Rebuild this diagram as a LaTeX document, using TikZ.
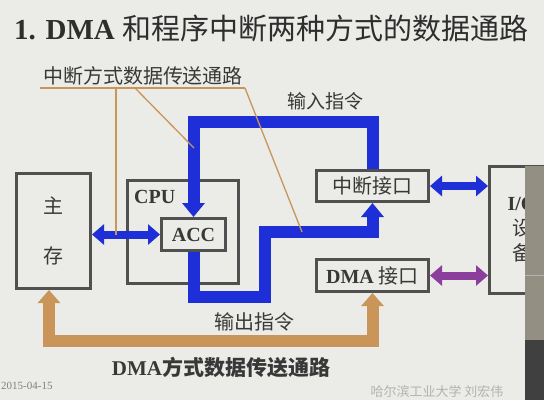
\documentclass[tikz,border=0pt]{standalone}
\usepackage{fontspec}
\setmainfont{Liberation Serif}
\newfontfamily\cjk{Noto Sans CJK SC}
\usetikzlibrary{arrows.meta,positioning,calc}
\definecolor{bluebus}{HTML}{1E2FD8}
\definecolor{tanbus}{HTML}{C99559}
\definecolor{viola}{HTML}{8C3E9C}
\definecolor{grigio}{HTML}{505050}
\definecolor{inchiostro}{HTML}{383838}
\definecolor{fondo}{HTML}{EBEBE7}
\tikzset{main base/.style={draw=grigio,line width=3pt,text=inchiostro,align=center, }, }
\tikzset{main node/.style={rectangle,main base,inner sep=0pt}, }
\tikzset{main verb/.style={text=inchiostro,inner sep=0pt}, }
\tikzset{linea/.style={-{Triangle[width=22pt,length=14pt]},line width=12pt,bluebus,line join=miter}}
\tikzset{linea2/.style={{Triangle[width=20pt,length=12pt]}-{Triangle[width=20pt,length=12pt]},line width=8pt}}
\tikzset{linea3/.style={{Triangle[width=22pt,length=13pt]}-{Triangle[width=22pt,length=13pt]},line width=12pt,tanbus,line join=miter}}
\tikzset{filo/.style={tanbus,line width=1.3pt}}

\begin{document}
\begin{tikzpicture}[x=1pt,y=-1pt]
\useasboundingbox (0,0) rectangle (544,400);
\fill[fondo] (0,0) rectangle (544,400);
%
\node[main verb,anchor=west,text=black!82,font=\fontsize{29pt}{31pt}\selectfont] (0) at (14,28) {\textbf{1. DMA} {\cjk 和程序中断两种方式的数据通路}};
%
\node[main node,minimum width=74pt,minimum height=115pt,font=\cjk\fontsize{20pt}{50pt}\selectfont] (1) at (53.5,231) {主\\存};
\node[main node,minimum width=111pt,minimum height=103pt] (2) at (183,232) {};
\node[main verb,anchor=west,font=\fontsize{20pt}{22pt}\selectfont\bfseries] (3) at (134,197) {CPU};
\node[main node,minimum width=64pt,minimum height=32pt,font=\fontsize{20pt}{22pt}\selectfont\bfseries] (4) at (193.5,234.5) {ACC};
\node[main node,minimum width=112pt,minimum height=31pt,font=\cjk\fontsize{20pt}{22pt}\selectfont] (5) at (372.5,186) {中断接口};
\node[main node,minimum width=112pt,minimum height=32pt,font=\fontsize{20pt}{22pt}\selectfont] (6) at (372.5,275.5) {\textbf{DMA} {\cjk 接口}};
\node[main node,minimum width=65pt,minimum height=127pt,font=\fontsize{20pt}{25pt}\selectfont] (7) at (522,230) {\textbf{I/O}\\{\cjk 设}\\{\cjk 备}};
%
\node[main verb,font=\cjk\fontsize{20pt}{22pt}\selectfont] (8) at (143,76) {中断方式数据传送通路};
\node[main verb,font=\cjk\fontsize{19pt}{21pt}\selectfont] (9) at (325,101) {输入指令};
\node[main verb,font=\cjk\fontsize{20pt}{22pt}\selectfont] (10) at (254,322) {输出指令};
\node[main verb,font=\fontsize{21pt}{23pt}\selectfont] (11) at (221,367) {\textbf{DMA}{\cjk\bfseries 方式数据传送通路}};
%
\coordinate (a) at (283,122);
\coordinate (b) at (265,297);
\coordinate (c) at (265,232);
\coordinate (d) at (200,341);
\coordinate (e) at (49,300);
\coordinate (u) at (40,88);
\coordinate (v) at (245,88);
\coordinate (w) at (116,88);
\coordinate (z) at (135,88);
\coordinate (p) at (194,148);
\coordinate (q) at (302,232);
%
\draw[linea] (5.north) |- (a) -| (4.north);
\draw[linea] (4.south) |- (b) -- (c) -| (5.south);
\draw[linea2,bluebus] (1.east |- 4.west) -- (4.west);
\draw[linea2,bluebus] (5.east) -- (7.west |- 5.east);
\draw[linea2,viola] (6.east) -- (7.west |- 6.east);
\draw[linea3] (1.south -| e) |- (d) -| (6.south);
%
\draw[filo,line width=2pt] (u) -- (v);
\draw[filo] (w) -- (w |- 4.west);
\draw[filo] (z) -- (p);
\draw[filo] (v) -- (q);
%
\fill[black!45!olive!20!gray!90] (525,166) rectangle (544,340);
\fill[black!75] (525,340) rectangle (544,400);
\draw[gray!60,line width=0.8pt] (525,275) -- (544,275);
%
\node[main verb,anchor=west,text=gray,font=\fontsize{11pt}{12pt}\selectfont] (12) at (1,386) {2015-04-15};
\node[main verb,text=gray!60,font=\cjk\fontsize{13pt}{14pt}\selectfont] (13) at (437,392) {哈尔滨工业大学\ 刘宏伟};
\end{tikzpicture}
\end{document}
